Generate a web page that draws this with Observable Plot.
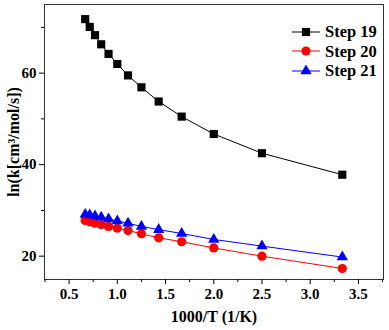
<!DOCTYPE html>
<html>
<head>
<meta charset="utf-8">
<script src="https://cdn.jsdelivr.net/npm/d3@7"></script>
<script src="https://cdn.jsdelivr.net/npm/@observablehq/plot@0.6"></script>
<style>
  html, body { margin: 0; padding: 0; background: #fff; }
  #wrap { position: relative; width: 389px; height: 330px; }
  #wrap svg text { font-family: "Liberation Serif", serif !important; font-weight: bold !important; font-variant: normal !important; fill: #000; }
  #wrap svg g[aria-label="x-axis tick label"], #wrap svg g[aria-label="y-axis tick label"] { font-size: 15px !important; font-family: "Liberation Serif", serif !important; font-weight: bold !important; }
  #wrap svg g[aria-label="x-axis label"], #wrap svg g[aria-label="y-axis label"] { font-size: 16px !important; }
  #legend { position: absolute; left: 292px; top: 22px; font-family: "Liberation Serif", serif; font-weight: bold; font-size: 16.5px; line-height: 19.5px; }
  #legend .row { display: flex; align-items: center; height: 19.5px; }
  #legend svg { margin-right: 5px; }
</style>
</head>
<body>
<div id="wrap"></div>
<script>
const invT = [0.667, 0.714, 0.769, 0.833, 0.909, 1.0, 1.111, 1.25, 1.429, 1.667, 2.0, 2.5, 3.333];
const step19 = [71.8, 70.1, 68.3, 66.3, 64.2, 62.0, 59.5, 56.9, 53.8, 50.5, 46.7, 42.5, 37.8];
const step20 = [27.8, 27.5, 27.2, 26.9, 26.5, 26.1, 25.6, 24.9, 24.0, 23.15, 21.8, 20.0, 17.3];
const step21 = [29.1, 29.0, 28.75, 28.5, 28.1, 27.7, 27.2, 26.5, 25.8, 24.95, 23.65, 22.2, 19.8];
const seriesNames = ["Step 19", "Step 20", "Step 21"];
const seriesColors = ["#000000", "#ff0000", "#0000ff"];
const seriesSymbols = ["square", "circle", "triangle"];
const xTicks = [0.5, 1.0, 1.5, 2.0, 2.5, 3.0, 3.5];
const xMinor = [0.25, 0.75, 1.25, 1.75, 2.25, 2.75, 3.25, 3.75];
const yTicks = [20, 40, 60];
const yMinor = [30, 50, 70];

const allSeries = [step19, step20, step21];
const rows = [];
allSeries.forEach((vals, si) => vals.forEach((v, i) => rows.push({x: invT[i], y: v, s: seriesNames[si]})));

const marks = [Plot.frame({stroke: "#333", strokeWidth: 1})];
seriesNames.forEach((name, si) => {
  const d = rows.filter(r => r.s === name);
  marks.push(Plot.line(d, {x: "x", y: "y", stroke: seriesColors[si], strokeWidth: 1}));
  marks.push(Plot.dot(d, {x: "x", y: "y", fill: seriesColors[si], stroke: "none", symbol: () => seriesSymbols[si], r: si === 2 ? 4.2 : 4.6}));
});
marks.push(
  Plot.axisX({ticks: xTicks, tickSize: 5, tickPadding: 4, fontSize: 15, tickFormat: d3.format(".1f"), label: null}),
  Plot.axisX({ticks: xMinor, tickSize: 3, text: null, label: null}),
  Plot.axisX({ticks: [], text: null, label: "1000/T (1/K)", labelAnchor: "center", labelArrow: "none", labelOffset: 42, fontSize: 16}),
  Plot.axisY({ticks: yTicks, tickSize: 5, tickPadding: 3, fontSize: 15, label: null}),
  Plot.axisY({ticks: yMinor, tickSize: 3, text: null, label: null}),
  Plot.axisY({ticks: [], text: null, label: "ln(k[cm³/mol/s])", labelAnchor: "center", labelArrow: "none", labelOffset: 37, fontSize: 16})
);

const chart = Plot.plot({
  width: 389,
  height: 330,
  marginLeft: 44,
  marginRight: 6,
  marginTop: 4,
  marginBottom: 51,
  x: {domain: [0.245, 3.76]},
  y: {domain: [14.9, 75]},
  style: {fontFamily: "Liberation Serif", fontSize: "15px", fontWeight: "bold", color: "#000", background: "#fff"},
  marks
});
document.getElementById("wrap").appendChild(chart);

// legend
const legend = document.createElement("div");
legend.id = "legend";
seriesNames.forEach((name, si) => {
  const row = document.createElement("div");
  row.className = "row";
  const sym = d3.create("svg").attr("width", 28).attr("height", 12);
  sym.append("line").attr("x1", 0).attr("x2", 28).attr("y1", 6).attr("y2", 6).attr("stroke", seriesColors[si]).attr("stroke-width", 1);
  const symType = {square: d3.symbolSquare, circle: d3.symbolCircle, triangle: d3.symbolTriangle}[seriesSymbols[si]];
  const r = si === 2 ? 4.2 : 4.6;
  sym.append("path").attr("d", d3.symbol(symType, Math.PI * r * r)()).attr("transform", "translate(14,6)").attr("fill", seriesColors[si]);
  row.appendChild(sym.node());
  const t = document.createElement("span");
  t.textContent = name;
  row.appendChild(t);
  legend.appendChild(row);
});
document.getElementById("wrap").appendChild(legend);
</script>
</body>
</html>
